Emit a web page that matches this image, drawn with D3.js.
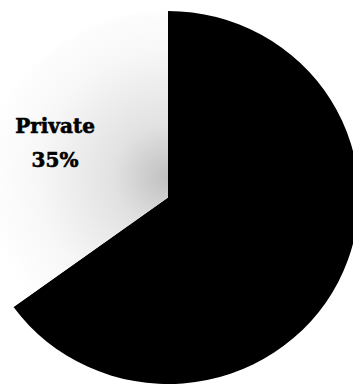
<!DOCTYPE html>
<html>
<head>
<meta charset="utf-8">
<script src="https://cdn.jsdelivr.net/npm/d3@7"></script>
<style>
  html, body { margin: 0; padding: 0; background: #fff; }
  svg { display: block; }
</style>
</head>
<body>
<svg id="chart" width="353" height="386"></svg>
<script>
const categories = ["Public", "Private"];
const values = [65, 35];
const labels = ["", "Private"];
const pctLabels = ["", "35%"];

const W = 353, H = 386;
const cx = 168, cy = 197.5, r = 186.5, sx = 1.024;

const svg = d3.select("#chart");
const defs = svg.append("defs");
// gradient coordinates are in the pie group's local space (origin = pie centre)
const grad = defs.append("radialGradient")
  .attr("id", "stip")
  .attr("gradientUnits", "userSpaceOnUse")
  .attr("cx", 0).attr("cy", -20).attr("r", 180);
grad.append("stop").attr("offset", "0%").attr("stop-color", "#c0c0c0");
grad.append("stop").attr("offset", "30%").attr("stop-color", "#e2e2e2");
grad.append("stop").attr("offset", "70%").attr("stop-color", "#f7f7f7");
grad.append("stop").attr("offset", "100%").attr("stop-color", "#ffffff");

const colors = d3.scaleOrdinal().domain(categories).range(["#000000", "url(#stip)"]);

const pie = d3.pie().sort(null).value(d => d.v);
const arc = d3.arc().innerRadius(0).outerRadius(r);
const data = categories.map((c, i) => ({ c, v: values[i], label: labels[i], pct: pctLabels[i] }));

const g = svg.append("g").attr("transform", `translate(${cx},${cy}) scale(${sx},1)`);
g.selectAll("path").data(pie(data)).join("path")
  .attr("d", arc)
  .attr("fill", d => colors(d.data.c));

const lab = svg.append("g");
const priv = data.find(d => d.label);
lab.append("text")
  .attr("x", 55).attr("y", 133)
  .attr("text-anchor", "middle")
  .attr("font-family", "DejaVu Serif")
  .attr("font-weight", "bold")
  .attr("font-size", 20)
  .attr("fill", "#000")
  .attr("stroke", "#000").attr("stroke-width", 0.6)
  .text(priv.label);
lab.append("text")
  .attr("x", 55).attr("y", 167)
  .attr("text-anchor", "middle")
  .attr("font-family", "DejaVu Serif")
  .attr("font-weight", "bold")
  .attr("font-size", 20)
  .attr("fill", "#000")
  .attr("stroke", "#000").attr("stroke-width", 0.6)
  .text(priv.pct);
</script>
</body>
</html>
